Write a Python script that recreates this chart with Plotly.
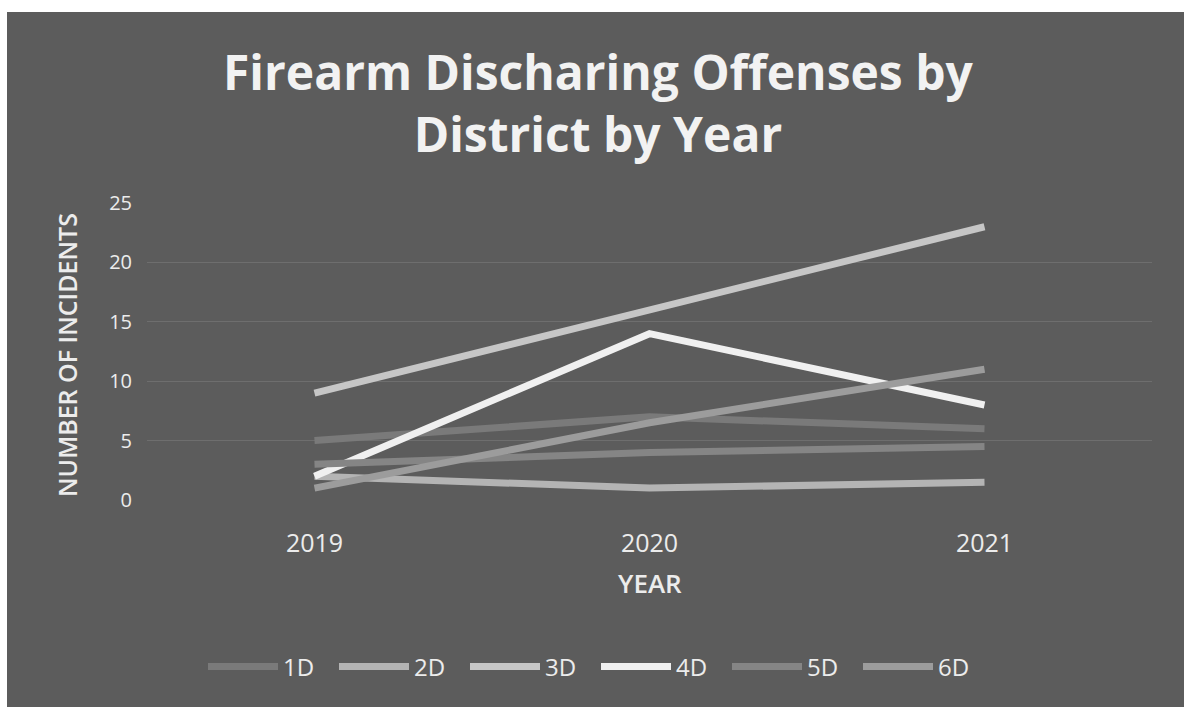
import plotly.graph_objects as go

# Incidents per district, 2019-2021
years = ["2019", "2020", "2021"]
districts = ["1D", "2D", "3D", "4D", "5D", "6D"]
d1 = [5, 7, 6]
d2 = [2, 1, 1.5]
d3 = [9, 16, 23]
d4 = [2, 14, 8]
d5 = [3, 4, 4.5]
d6 = [1, 6.5, 11]
series = [d1, d2, d3, d4, d5, d6]

line_colors = ["#7a7a7a", "#b4b4b4", "#c6c6c6", "#f0f0f0", "#858585", "#9c9c9c"]

W, H = 1188, 713
L, R, T, B = 147, 36, 203, 213
pw, ph = W - L - R, H - T - B


def px_x(px):
    return (px - L) / pw


def px_y(py):
    return (H - B - py) / ph


FONT = "'Open Sans', Lato, sans-serif"
TXT = "#ececec"

fig = go.Figure()
for name, vals, col in zip(districts, series, line_colors):
    fig.add_trace(go.Scatter(
        x=years, y=vals, name=name, mode="lines",
        line=dict(color=col, width=7),
    ))

fig.update_layout(
    width=W, height=H,
    margin=dict(l=L, r=R, t=T, b=B),
    paper_bgcolor="white",
    plot_bgcolor="rgba(0,0,0,0)",
    showlegend=True,
    legend=dict(
        orientation="h", x=px_x(596), y=px_y(667),
        xanchor="center", yanchor="middle",
        font=dict(family=FONT, size=24, color=TXT),
        itemwidth=70, entrywidth=46, entrywidthmode="pixels",
        bgcolor="rgba(0,0,0,0)",
        tracegroupgap=0,
    ),
    xaxis=dict(
        type="category", range=[-0.5, 2.5],
        showgrid=False, zeroline=False, showline=False,
        ticks="", ticklabelstandoff=26,
        tickfont=dict(family=FONT, size=25, color=TXT),
    ),
    yaxis=dict(
        range=[0, 25], tickvals=[0, 5, 10, 15, 20, 25],
        showgrid=True, gridcolor="#6e6e6e", gridwidth=1,
        zeroline=False, showline=False, ticks="",
        ticklabelstandoff=14,
        tickfont=dict(family=FONT, size=20, color=TXT),
    ),
    shapes=[dict(
        type="rect", xref="paper", yref="paper", layer="below",
        x0=px_x(7), x1=px_x(1184), y0=px_y(707), y1=px_y(12),
        fillcolor="#5c5c5c", line=dict(width=0),
    )],
    annotations=[
        dict(
            text="Firearm Discharing Offenses by<br>District by Year",
            xref="paper", yref="paper", x=px_x(598), y=px_y(102),
            xanchor="center", yanchor="middle", showarrow=False,
            font=dict(family=FONT, size=48, color="#f2f2f2", weight="bold"),
        ),
        dict(
            text="NUMBER OF INCIDENTS",
            xref="paper", yref="paper", x=px_x(67), y=px_y(355),
            xanchor="center", yanchor="middle", showarrow=False,
            textangle=-90,
            font=dict(family=FONT, size=25, color=TXT, weight=600),
        ),
        dict(
            text="YEAR",
            xref="paper", yref="paper", x=px_x(650), y=px_y(583),
            xanchor="center", yanchor="middle", showarrow=False,
            font=dict(family=FONT, size=26, color=TXT, weight=600),
        ),
    ],
)

fig.write_html("out.html")
